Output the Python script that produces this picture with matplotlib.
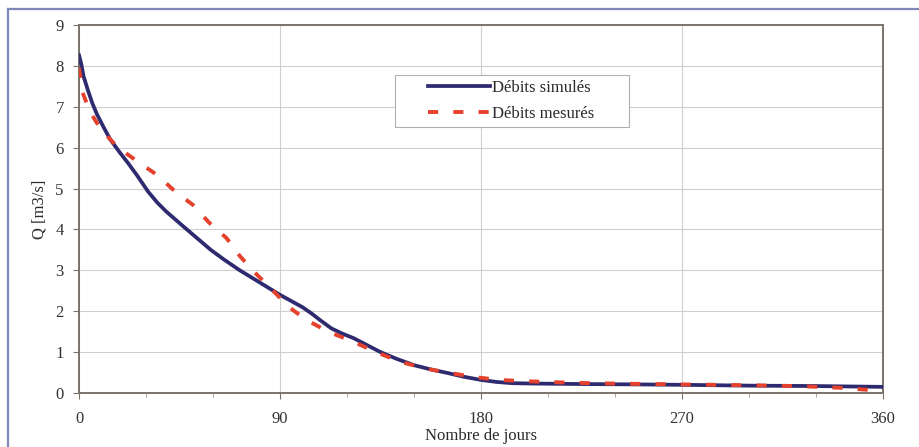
import numpy as np
import matplotlib.pyplot as plt
from matplotlib.lines import Line2D
from matplotlib.patches import Rectangle

# Débits simulés
jours_sim = [0, 1, 2, 4, 6, 8, 11, 14, 18, 22, 26, 31, 35, 39, 43, 47, 53, 59, 65, 72, 78,
             84, 90, 95, 100, 104, 108, 113, 118, 123, 129, 135, 142, 150, 158, 165, 172,
             180, 187, 194, 205, 224, 250, 270, 300, 330, 360]
q_sim = [8.26, 8.05, 7.75, 7.4, 7.08, 6.82, 6.5, 6.2, 5.9, 5.62, 5.32, 4.92, 4.66, 4.44,
         4.25, 4.06, 3.78, 3.5, 3.26, 3.0, 2.8, 2.6, 2.4, 2.25, 2.1, 1.95, 1.78, 1.58,
         1.45, 1.34, 1.17, 1.0, 0.84, 0.68, 0.57, 0.49, 0.4, 0.32, 0.27, 0.24, 0.23, 0.22,
         0.21, 0.2, 0.18, 0.17, 0.15]

# Débits mesurés
jours_mes = [0, 1.5, 5, 10, 17.5, 26.5, 35, 43, 51, 58, 66, 72, 79, 86, 94, 102, 112, 123,
             133, 144, 155, 166, 177, 188, 199, 210, 221, 240, 270, 300, 321, 340, 355, 360]
q_mes = [7.95, 7.36, 6.87, 6.43, 6.0, 5.65, 5.33, 4.93, 4.6, 4.18, 3.79, 3.35, 2.93, 2.55,
         2.1, 1.78, 1.49, 1.25, 1.0, 0.76, 0.6, 0.49, 0.39, 0.32, 0.29, 0.27, 0.25, 0.23,
         0.21, 0.19, 0.17, 0.13, 0.07, 0.05]

plt.rcParams['font.family'] = ['Liberation Serif', 'DejaVu Serif']

fig = plt.figure(figsize=(9.2, 4.47), dpi=100)
ax = fig.add_axes([0.0859, 0.1208, 0.8739, 0.8233])

navy = '#2d2a6f'
rouge = '#e5412c'
ax.plot(jours_sim, q_sim, color=navy, lw=2.7, label='Débits simulés', zorder=3)
ax.plot(jours_mes, q_mes, color=rouge, lw=2.8, dashes=(2.6, 3.9), label='Débits mesurés', zorder=4)

ax.set_xlim(0, 360)
ax.set_ylim(0, 9)
ax.set_xticks([0, 90, 180, 270, 360])
ax.set_xticks(np.arange(0, 361, 30), minor=True)
ax.set_yticks(range(0, 10))
ax.grid(True, color='#cfcfcf', lw=0.8)
ax.tick_params(axis='both', which='major', length=4, color='#7a736b', labelsize=12,
               labelcolor='#333333', pad=7)
ax.tick_params(axis='x', which='minor', length=3, color='#9a948c')
ax.tick_params(axis='x', pad=9)
for s in ax.spines.values():
    s.set_color('#7a736b')
    s.set_linewidth(1.4)

ax.set_xlabel('Nombre de jours', fontsize=12, color='#2a2a2a', labelpad=1)
ax.set_ylabel('Q [m3/s]', fontsize=12, color='#2a2a2a', labelpad=6)

# légende : cadre dessiné à part, comme dans Excel
ax.add_patch(Rectangle((0.393, 0.723), 0.291, 0.141, transform=ax.transAxes, facecolor='white',
                       edgecolor='#b0b0b0', lw=0.8, zorder=5))
leg = ax.legend(loc='center left', bbox_to_anchor=(0.424, 0.793), fontsize=12, frameon=False,
                handlelength=3.7, handletextpad=0.15, borderpad=0, labelspacing=0.62)
leg.set_zorder(6)
for t in leg.get_texts():
    t.set_color('#2a2a2a')

# cadre extérieur
fig.add_artist(Line2D([8 / 920, 1.0], [1 - 9 / 447, 1 - 9 / 447], transform=fig.transFigure,
                      color='#7f88b8', lw=1.6))
fig.add_artist(Line2D([8 / 920, 8 / 920], [0, 1 - 9 / 447], transform=fig.transFigure,
                      color='#7f88b8', lw=1.6))

fig.savefig('out.png', dpi=100)
